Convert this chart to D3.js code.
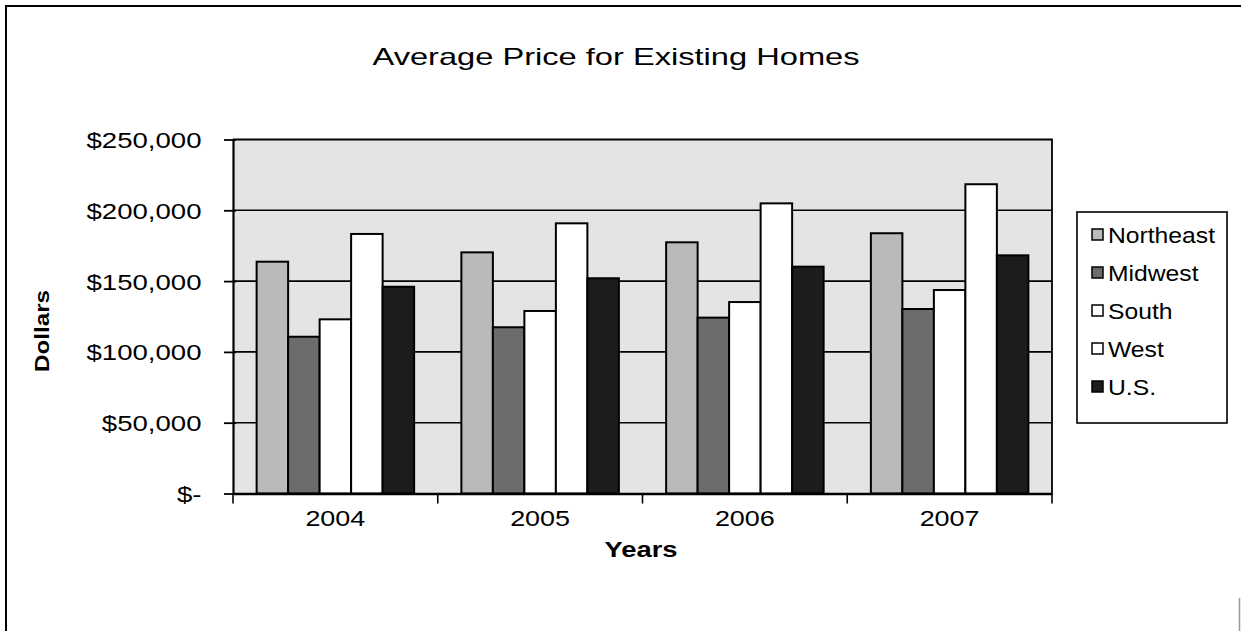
<!DOCTYPE html>
<html>
<head>
<meta charset="utf-8">
<script src="https://cdn.jsdelivr.net/npm/d3@7"></script>
<style>
  html, body { margin: 0; padding: 0; background: #fff; }
  svg { display: block; }
  text { font-family: "Liberation Sans", Arial, sans-serif; fill: #000; }
</style>
</head>
<body>
<svg id="chart" width="1241" height="631"></svg>
<script>
// ---- data ----
const years = ["2004", "2005", "2006", "2007"];
const seriesNames = ["Northeast", "Midwest", "South", "West", "U.S."];
const northeast = [163700, 170300, 177400, 183800];
const midwest   = [110700, 117400, 124200, 130300];
const south     = [123000, 128900, 135200, 143700];
const west      = [183300, 190800, 204900, 218400];
const us        = [146000, 152000, 160200, 168200];
const yTicks = [0, 50000, 100000, 150000, 200000, 250000];
const yTickLabels = ["$-", "$50,000", "$100,000", "$150,000", "$200,000", "$250,000"];
const titleText = "Average Price for Existing Homes";
const xTitle = "Years";
const yTitle = "Dollars";

const seriesValues = [northeast, midwest, south, west, us];
const fills = ["#bababa", "#6c6c6c", "#ffffff", "#ffffff", "#1c1c1c"];

const svg = d3.select("#chart");

// outer frame (top + left, partial right)
svg.append("path")
  .attr("d", "M6,631 L6,6 L1241,6")
  .attr("fill", "none").attr("stroke", "#000").attr("stroke-width", 2);
svg.append("line").attr("x1", 1239.5).attr("x2", 1239.5).attr("y1", 598).attr("y2", 631)
  .attr("stroke", "#999").attr("stroke-width", 1.5);

const pLeft = 233, pRight = 1052, pTop = 139.5, pBottom = 493.5;

const x0 = d3.scaleBand().domain(years).range([pLeft, pRight]).paddingInner(0).paddingOuter(0);
const x1 = d3.scaleBand().domain(seriesNames).range([0, x0.bandwidth()]).paddingInner(0).paddingOuter(0.75);
const y = d3.scaleLinear().domain([0, 250000]).range([pBottom, pTop]);

// plot background
svg.append("rect").attr("x", pLeft).attr("y", pTop).attr("width", pRight - pLeft).attr("height", pBottom - pTop)
  .attr("fill", "#e4e4e4");

// gridlines
svg.append("g").selectAll("line").data(yTicks.filter(d => d > 0 && d < 250000)).join("line")
  .attr("x1", pLeft).attr("x2", pRight).attr("y1", d => y(d)).attr("y2", d => y(d))
  .attr("stroke", "#000").attr("stroke-width", 1.6);

// plot border top/right
svg.append("path")
  .attr("d", `M${pLeft},${y(250000)} L${pRight},${y(250000)} L${pRight},${pBottom}`)
  .attr("fill", "none").attr("stroke", "#000").attr("stroke-width", 1.8);

// bars
const groups = svg.append("g").selectAll("g").data(years).join("g")
  .attr("transform", d => `translate(${x0(d)},0)`);
groups.selectAll("rect").data((yr, i) => seriesNames.map((s, j) => ({ s, j, v: seriesValues[j][i] })))
  .join("rect")
  .attr("x", d => x1(d.s)).attr("width", x1.bandwidth())
  .attr("y", d => y(d.v)).attr("height", d => y(0) - y(d.v))
  .attr("fill", d => fills[d.j]).attr("stroke", "#000").attr("stroke-width", 2);

// y axis
const yAxis = d3.axisLeft(y).tickValues(yTicks).tickFormat((d, i) => yTickLabels[i])
  .tickSizeInner(9).tickSizeOuter(0).tickPadding(22);
const yg = svg.append("g").attr("transform", `translate(${pLeft},0)`).call(yAxis);
yg.select(".domain").attr("stroke", "#000").attr("stroke-width", 2.2);
yg.selectAll(".tick line").attr("stroke", "#000").attr("stroke-width", 1.8).attr("x2", -9).attr("x1", 3);
yg.selectAll(".tick text").attr("font-size", 22).attr("font-family", "Liberation Sans, Arial, sans-serif")
  .attr("fill", "#000").attr("dy", "0.36em").attr("x", -31.5);

// x axis
const xAxis = d3.axisBottom(x0).tickSize(0).tickPadding(25);
const xg = svg.append("g").attr("transform", `translate(0,${pBottom})`).call(xAxis);
xg.select(".domain").attr("stroke", "#000").attr("stroke-width", 2.4);
xg.selectAll(".tick text").attr("font-size", 22).attr("font-family", "Liberation Sans, Arial, sans-serif")
  .attr("fill", "#000").attr("dy", "0.36em");
// category separator ticks
svg.append("g").selectAll("line").data(years.map(d => x0(d)).concat([pRight])).join("line")
  .attr("x1", d => d).attr("x2", d => d).attr("y1", pBottom).attr("y2", pBottom + 10)
  .attr("stroke", "#000").attr("stroke-width", 1.6);

// fit text widths to the stretched look of the original
function stretch(sel, target) {
  sel.each(function() {
    const n = this.getComputedTextLength();
    const w = typeof target === "function" ? target(n) : target;
    d3.select(this).attr("textLength", w).attr("lengthAdjust", "spacingAndGlyphs");
  });
}
{
  const ref = yg.selectAll(".tick text").filter((d) => d === 250000).node().getComputedTextLength();
  const f = 115 / ref;
  stretch(yg.selectAll(".tick text"), n => n * f);
  const ref2 = xg.select(".tick text").node().getComputedTextLength();
  const f2 = 60 / ref2;
  stretch(xg.selectAll(".tick text"), n => n * f2);
}

// title
const t = svg.append("text").attr("x", 616).attr("y", 65).attr("text-anchor", "middle")
  .attr("font-size", 24).text(titleText);
stretch(t, 487);

// axis titles
const xt = svg.append("text").attr("x", 641).attr("y", 557).attr("text-anchor", "middle")
  .attr("font-size", 22).attr("font-weight", "bold").text(xTitle);
stretch(xt, 73);
const yt = svg.append("text").attr("transform", "translate(49,331) rotate(-90)").attr("text-anchor", "middle")
  .attr("font-size", 21).attr("font-weight", "bold").text(yTitle);
stretch(yt, 82);

// legend
const lg = svg.append("g");
lg.append("rect").attr("x", 1077).attr("y", 212).attr("width", 150).attr("height", 211)
  .attr("fill", "#fff").attr("stroke", "#000").attr("stroke-width", 1.6);
const items = lg.selectAll("g").data(seriesNames).join("g")
  .attr("transform", (d, i) => `translate(1092,${235 + i * 38})`);
items.append("rect").attr("x", 0).attr("y", -6).attr("width", 11).attr("height", 11)
  .attr("fill", (d, i) => fills[i]).attr("stroke", "#000").attr("stroke-width", 1.5);
const ltexts = items.append("text").attr("x", 16).attr("y", 0).attr("dy", "0.36em")
  .attr("font-size", 22).text(d => d);
{
  const ref = ltexts.filter(d => d === "Northeast").node().getComputedTextLength();
  const f = 107 / ref;
  stretch(ltexts, n => n * f);
}
</script>
</body>
</html>
